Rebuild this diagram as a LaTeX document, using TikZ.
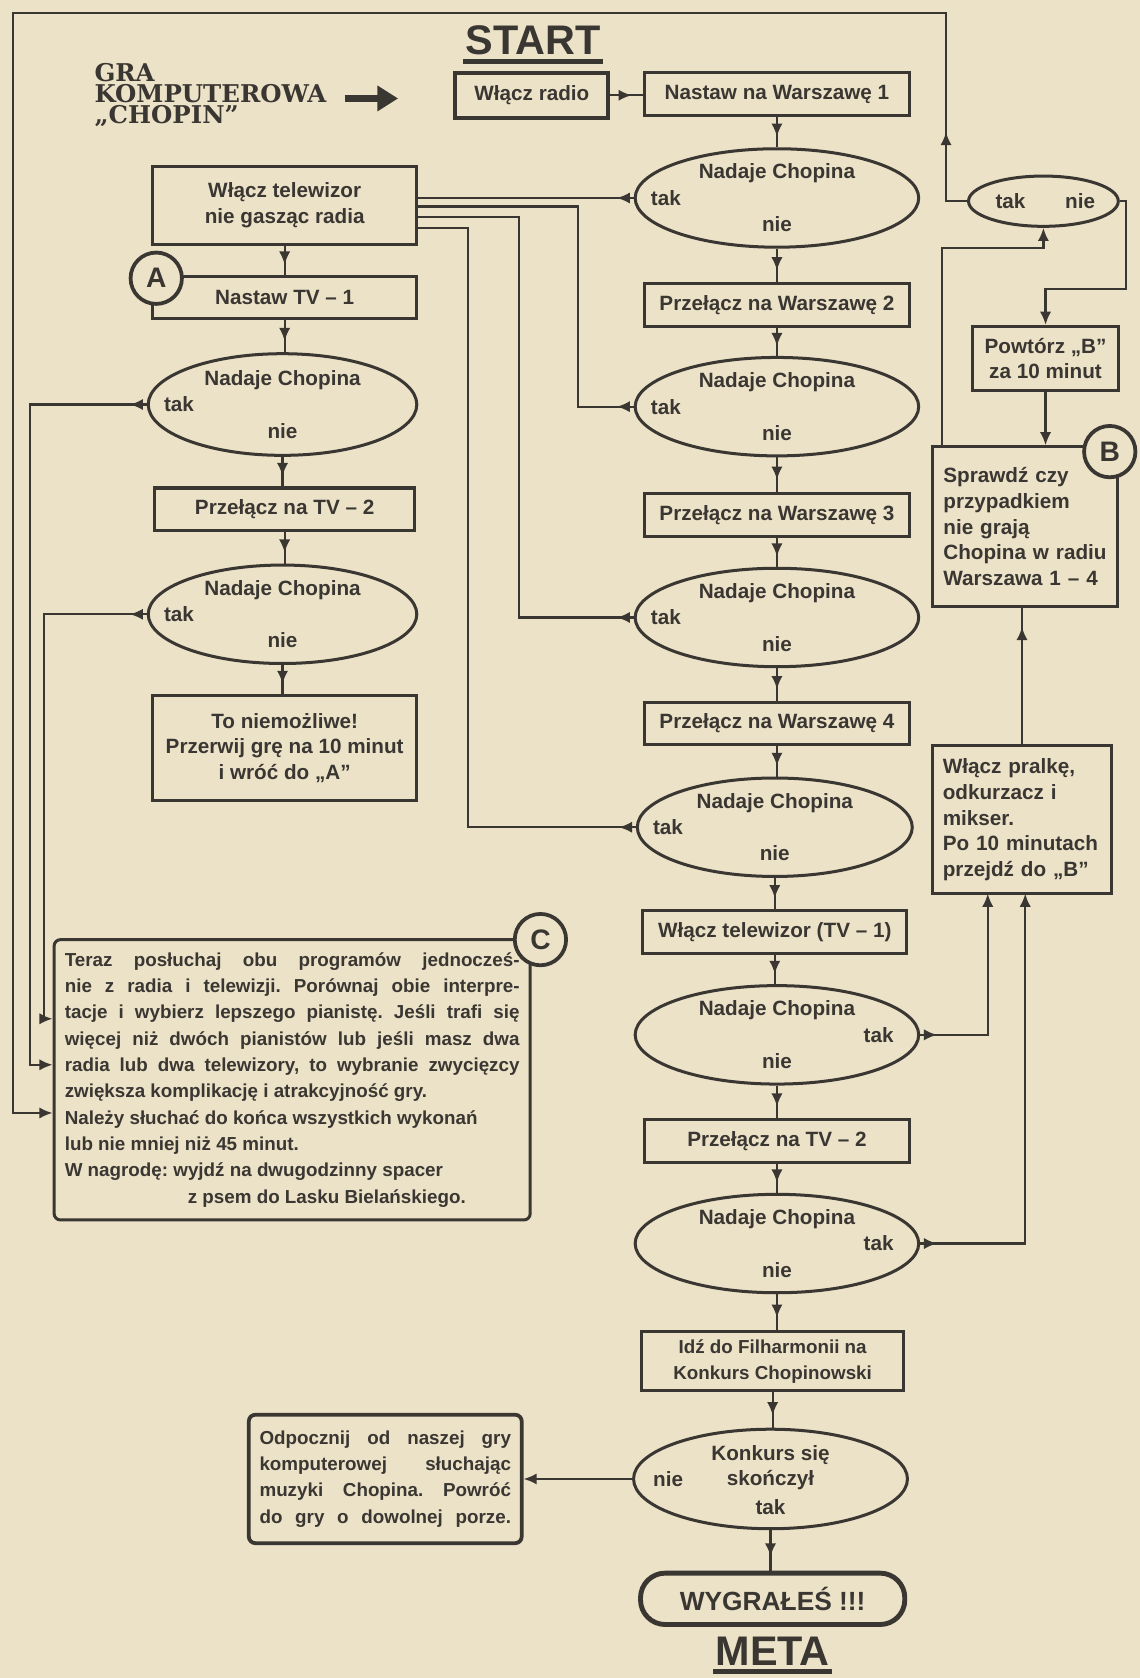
\documentclass[tikz,border=0pt]{standalone}
\usepackage{fontspec}
\setmainfont{Liberation Sans}
\newfontfamily\slabfont{DejaVu Serif}
\usetikzlibrary{shapes.geometric, arrows.meta, decorations.markings}

\definecolor{paper}{RGB}{236,226,200}
\definecolor{ink}{RGB}{58,54,50}
\newcommand\boxfont{\fontsize{11}{13.6}\selectfont\bfseries}
\newcommand\smallfont{\fontsize{10}{14}\selectfont\bfseries\frenchspacing}

\begin{document}
\begin{tikzpicture}[
    x=0.02cm, y=-0.02cm,
    every node/.style={text=ink},
    txt/.style={font=\boxfont, inner sep=0pt},
    box/.style={draw=ink, line width=1.6pt, font=\boxfont, align=center,
        minimum width=4.94cm, minimum height=0.8cm, inner sep=2pt},
    ask/.style={ellipse, draw=ink, line width=1.6pt, minimum width=5.3cm,
        minimum height=1.84cm, inner sep=0pt},
    chopin/.style={ask, label={[txt, yshift=13pt]center:Nadaje Chopina},
        label={[txt, yshift=-14pt]center:nie}},
    takL/.style={label={[txt, anchor=west, xshift=9pt]180:tak}},
    takR/.style={label={[txt, anchor=east, xshift=-14pt]0:tak}},
    letter/.style={circle, draw=ink, fill=paper, line width=2pt,
        minimum size=0.96cm, inner sep=0pt, font=\fontsize{15}{15}\selectfont\bfseries},
    headline/.style={font=\fontsize{22}{22}\selectfont\bfseries, inner sep=1pt},
    wire/.style={draw=ink, line width=1.2pt},
    arr/.style={wire, postaction={decorate}, decoration={markings,
        mark=at position #1 with {\arrow{Latex[length=7pt, width=6pt]}}}},
    arr/.default=0.65,
    tip/.style={wire, -{Latex[length=7pt, width=6pt]}}
]
\fill[paper] (0,0) rectangle (1065,1568);

% heading
\node[headline] (start) at (498,38) {START};
\draw[ink, line width=2.6pt] ([yshift=-2pt]start.south west) -- ([yshift=-2pt]start.south east);
\node[anchor=west, align=left, inner sep=0pt,
      font=\slabfont\fontsize{13}{11.3}\selectfont\bfseries] (game) at (88,89)
      {GRA\\KOMPUTEROWA\\„CHOPIN”};
\coordinate (gtail) at (322,92);
\coordinate (gtip) at (372,92);
\draw[ink, line width=4pt, -{Triangle[length=11pt, width=13pt]}] (gtail) -- (gtip);

% radio column
\node[box, minimum width=2.86cm, minimum height=0.84cm, line width=2pt] (radio) at (497,89) {Włącz radio};
\node[box] (w1) at (726,88) {Nastaw na Warszawę 1};
\node[chopin, takL] (e1) at (726,185) {};
\node[box] (w2) at (726,285) {Przełącz na Warszawę 2};
\node[chopin, takL] (e2) at (726,380) {};
\node[box] (w3) at (726,481) {Przełącz na Warszawę 3};
\node[chopin, takL] (e3) at (726,577) {};
\node[box] (w4) at (726,676) {Przełącz na Warszawę 4};
\node[chopin, takL, minimum width=5.14cm] (e4) at (724,773) {};
\node[box] (tv1) at (724,871) {Włącz telewizor (TV – 1)};
\node[chopin, takR] (e5) at (726,967) {};
\node[box] (tv2) at (726,1066) {Przełącz na TV – 2};
\node[chopin, takR] (e6) at (726,1162) {};
\node[box, font=\smallfont, minimum width=4.9cm, minimum height=1.1cm] (fil) at (722,1272)
     {Idź do Filharmonii na\\Konkurs Chopinowski};
\node[ask, minimum width=5.12cm, minimum height=1.86cm,
      label={[txt, align=center, yshift=6pt]center:Konkurs się\\skończył},
      label={[txt, yshift=-15pt]center:tak},
      label={[txt, anchor=west, xshift=11pt]180:nie}] (e7) at (720,1382) {};
\node[box, rounded corners=0.46cm, line width=2.6pt, minimum height=0.96cm,
      font=\fontsize{14}{14}\selectfont\bfseries] (win) at (722,1494) {WYGRAŁEŚ !!!};
\node[headline] (meta) at (722,1543) {META};
\draw[ink, line width=2.6pt] ([yshift=-2pt]meta.south west) -- ([yshift=-2pt]meta.south east);

% tv column
\node[box, minimum height=1.46cm] (tvr) at (266,192) {Włącz telewizor\\nie gasząc radia};
\node[box] (t1) at (266,278) {Nastaw TV – 1};
\node[letter] (A) at (146,260) {A};
\node[chopin, takL, minimum width=5.02cm, minimum height=1.9cm] (l1) at (264,378) {};
\node[box, minimum width=4.86cm] (t2) at (266,476) {Przełącz na TV – 2};
\node[chopin, takL, minimum width=5.02cm] (l2) at (264,574) {};
\node[box, minimum height=1.96cm] (imp) at (266,699)
     {To niemożliwe!\\Przerwij grę na 10 minut\\i wróć do „A”};

% right side
\node[ask, minimum width=2.8cm, minimum height=0.94cm,
      label={[txt, anchor=west, xshift=15pt]180:tak},
      label={[txt, anchor=east, xshift=-13pt]0:nie}] (q) at (975,188) {};
\node[box, minimum width=2.74cm, minimum height=1.2cm] (rep) at (977,335) {Powtórz „B”\\za 10 minut};
\node[box, align=left, text width=3.06cm, inner xsep=0.2cm, minimum width=0pt,
      minimum height=2.98cm] (chk) at (958,492)
     {Sprawdź czy\\przypadkiem\\nie grają\\Chopina w radiu\\Warszawa 1 – 4};
\node[letter] (B) at (1037,422) {B};
\node[box, align=left, text width=2.96cm, inner xsep=0.2cm, minimum width=0pt,
      minimum height=2.76cm] (wash) at (955,766)
     {Włącz pralkę,\\odkurzacz i\\mikser.\\Po 10 minutach\\przejdź do „B”};

% comparison box
\node[box, rounded corners=0.12cm, font=\smallfont, align=justify, text width=8.5cm,
      inner xsep=0.2cm, inner ysep=5pt, minimum height=5.24cm] (cbox) at (273,1009)
     {Teraz posłuchaj obu programów jednocześ-\linebreak
      nie z radia i telewizji. Porównaj obie interpre-\linebreak
      tacje i wybierz lepszego pianistę. Jeśli trafi się\linebreak
      więcej niż dwóch pianistów lub jeśli masz dwa\linebreak
      radia lub dwa telewizory, to wybranie zwycięzcy\linebreak
      zwiększa komplikację i atrakcyjność gry.\\
      Należy słuchać do końca wszystkich wykonań\\
      lub nie mniej niż 45 minut.\\
      W nagrodę: wyjdź na dwugodzinny spacer\\
      \hspace*{2.3cm}z psem do Lasku Bielańskiego.};
\node[letter] (C) at (505,878) {C};
\node[box, rounded corners=0.12cm, font=\smallfont, align=justify, text width=4.7cm,
      inner xsep=0.2cm, minimum height=2.4cm, line width=2pt] (rest) at (360,1382)
     {Odpocznij od naszej gry\linebreak komputerowej słuchając\linebreak
      muzyki Chopina. Powróć\linebreak
      \makebox[\linewidth][s]{do gry o dowolnej porze.}};

% straight flow
\draw[arr] (radio.east) -- (radio.east -| w1.west);
\draw[arr] (w1.south) -- (w1.south |- e1.north);
\draw[arr] (e1.south) -- (e1.south |- w2.north);
\draw[arr] (w2.south) -- (w2.south |- e2.north);
\draw[arr] (e2.south) -- (e2.south |- w3.north);
\draw[arr] (w3.south) -- (w3.south |- e3.north);
\draw[arr] (e3.south) -- (e3.south |- w4.north);
\draw[arr] (w4.south) -- (w4.south |- e4.north);
\draw[arr] (e4.south) -- (e4.south |- tv1.north);
\draw[arr] (tv1.south) -- (tv1.south |- e5.north);
\draw[arr] (e5.south) -- (e5.south |- tv2.north);
\draw[arr] (tv2.south) -- (tv2.south |- e6.north);
\draw[arr] (e6.south) -- (e6.south |- fil.north);
\draw[arr] (fil.south) -- (fil.south |- e7.north);
\draw[arr] (e7.south) -- (e7.south |- win.north);
\draw[arr] (tvr.south) -- (tvr.south |- t1.north);
\draw[arr] (t1.south) -- (t1.south |- l1.north);
\draw[arr] (l1.south) -- (l1.south |- t2.north);
\draw[arr] (t2.south) -- (t2.south |- l2.north);
\draw[arr] (l2.south) -- (l2.south |- imp.north);

% radio "tak" -> switch on the TV
\coordinate (j2) at (540,193);
\coordinate (j3) at (485,203);
\coordinate (j4) at (437,213);
\draw[arr=9pt] (e1.west) -- (e1.west -| tvr.east);
\draw[arr=9pt] (e2.west) -| (j2) -- (j2 -| tvr.east);
\draw[arr=9pt] (e3.west) -| (j3) -- (j3 -| tvr.east);
\draw[arr=9pt] (e4.west) -| (j4) -- (j4 -| tvr.east);

% into the comparison box
\coordinate (c2) at (41,952);
\coordinate (c1) at (28,995);
\coordinate (c0) at (12,1040);
\coordinate (o1) at (884,12);
\draw[arr=9pt, tip] (l1.west) -| (c1) -- (c1 -| cbox.west);
\draw[arr=9pt, tip] (l2.west) -| (c2) -- (c2 -| cbox.west);
\draw[arr=48pt, tip] (q.west) -| (o1) -| (c0) -- (c0 -| cbox.west);

% check loop
\coordinate (n1) at (1052,270);
\coordinate (s1) at (880,232);
\draw[tip] (q.east) -| (n1) -| (rep.north);
\draw[tip] (rep.south) -- (rep.south |- chk.north);
\draw[tip] (s1 |- chk.north) -- (s1) -| (q.south);
\draw[arr=0.86] (wash.north) -- (wash.north |- chk.south);
\coordinate (r1) at (923,835);
\coordinate (r2) at (958,835);
\draw[arr=9pt, tip] (e5.east) -| (r1);
\draw[arr=9pt, tip] (e6.east) -| (r2);

% contest not over
\draw[tip] (e7.west) -- (e7.west -| rest.east);
\end{tikzpicture}
\end{document}
